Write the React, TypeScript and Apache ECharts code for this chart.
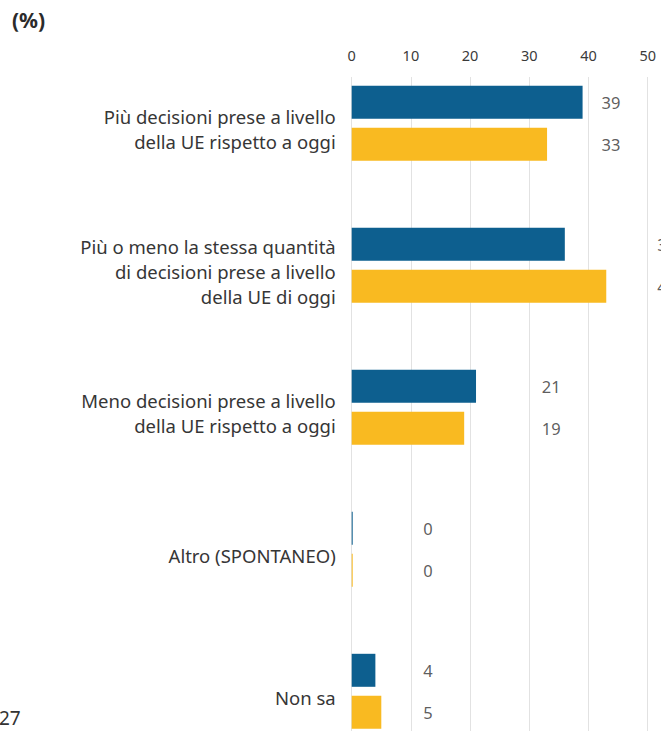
import React, { useEffect, useRef } from "react";
import * as echarts from "echarts";

// ---- data ----
const CATEGORIES = [
  "Più decisioni prese a livello\ndella UE rispetto a oggi",
  "Più o meno la stessa quantità\ndi decisioni prese a livello\ndella UE di oggi",
  "Meno decisioni prese a livello\ndella UE rispetto a oggi",
  "Altro (SPONTANEO)",
  "Non sa",
];
const SERIES_NAMES = ["UE27", "IT"];
const SERIES_BLUE = [39, 36, 21, 0, 4];
const SERIES_YELLOW = [33, 43, 19, 0, 5];
const X_MIN = 0;
const X_MAX = 50;
const X_INTERVAL = 10;

// ---- layout (value-axis position at which each group's value labels start) ----
const LABEL_AT = [42.2, 51.6, 32.1, 12.1, 12.1];

const FONT = "'Noto Sans', sans-serif";
const TEXT = "#333333";
const BLUE = "#0d5f8f";
const YELLOW = "#f9ba21";
const GRID_LEFT = 351.7;
const GRID_WIDTH = 296;
const BAR_W = 33;
const BAR_GAP_PX = 9;
const HALF_OFF = (BAR_W + BAR_GAP_PX) / 2;

export default function App() {
  const ref = useRef<HTMLDivElement>(null);
  useEffect(() => {
    if (!ref.current) return;
    const chart = echarts.init(ref.current, undefined, { renderer: "svg" });
    const labelSeries = (vals: number[], dy: number, name: string) => ({
      type: "scatter",
      name: name + "-labels",
      xAxisIndex: 0,
      yAxisIndex: 0,
      symbolSize: 0,
      clip: false,
      silent: true,
      data: vals.map((v, i) => ({ value: [LABEL_AT[i], i], raw: v })),
      label: {
        show: true,
        position: "right",
        distance: 0,
        offset: [0, dy],
        fontFamily: FONT,
        fontSize: 16.5,
        color: TEXT,
        formatter: (p: any) => String(p.data.raw),
      },
      z: 5,
    });
    chart.setOption({
      animation: false,
      backgroundColor: "#ffffff",
      textStyle: { fontFamily: FONT },
      grid: [
        { left: GRID_LEFT, width: GRID_WIDTH, top: 52.3, height: 710, containLabel: false },
        { left: GRID_LEFT, width: GRID_WIDTH, top: 77, height: 685, containLabel: false },
      ],
      xAxis: [
        {
          gridIndex: 0,
          type: "value",
          min: X_MIN,
          max: X_MAX,
          interval: X_INTERVAL,
          show: false,
        },
        {
          gridIndex: 1,
          type: "value",
          position: "top",
          min: X_MIN,
          max: X_MAX,
          interval: X_INTERVAL,
          axisLine: { show: true, lineStyle: { color: "#dcdcdc", width: 1 } },
          axisTick: { show: true, length: 6, lineStyle: { color: "#dcdcdc" } },
          axisLabel: { margin: 15, fontFamily: FONT, fontSize: 14.5, color: "#3a3a3a" },
          splitLine: { show: true, lineStyle: { color: "#e2e2e2", width: 1 } },
        },
      ],
      yAxis: [
        {
          gridIndex: 0,
          type: "category",
          inverse: true,
          data: CATEGORIES,
          axisLine: { show: false },
          axisTick: { show: false },
          splitLine: { show: false },
          axisLabel: {
            margin: 16,
            align: "right",
            formatter: (v: string) =>
              "{s| }\n" + v.split("\n").map((l) => `{t|${l}}`).join("\n"),
            rich: {
              s: { fontSize: 1, lineHeight: 12 },
              t: {
                fontFamily: FONT,
                fontSize: 18.5,
                lineHeight: 25,
                color: "#363636",
                align: "right",
              },
            },
          },
        },
        { gridIndex: 1, type: "value", show: false },
      ],
      graphic: [
        {
          type: "text",
          left: 12,
          top: 9,
          style: { text: "(%)", fontFamily: FONT, fontWeight: "bold", fontSize: 21, fill: "#2b2b2b" },
        },
        {
          type: "text",
          left: -1,
          top: 708,
          style: { text: "27", fontFamily: FONT, fontSize: 19, fill: TEXT },
        },
      ],
      series: [
        {
          type: "bar",
          name: SERIES_NAMES[0],
          xAxisIndex: 0,
          yAxisIndex: 0,
          data: SERIES_BLUE,
          barWidth: BAR_W,
          barGap: (BAR_GAP_PX / BAR_W) * 100 + "%",
          barMinHeight: 1,
          itemStyle: { color: BLUE },
        },
        {
          type: "bar",
          name: SERIES_NAMES[1],
          xAxisIndex: 0,
          yAxisIndex: 0,
          data: SERIES_YELLOW,
          barWidth: BAR_W,
          barGap: (BAR_GAP_PX / BAR_W) * 100 + "%",
          barMinHeight: 1,
          itemStyle: { color: YELLOW },
        },
        labelSeries(SERIES_BLUE, -HALF_OFF, SERIES_NAMES[0]),
        labelSeries(SERIES_YELLOW, HALF_OFF, SERIES_NAMES[1]),
      ],
    });
    return () => chart.dispose();
  }, []);
  return (
    <div style={{ position: "fixed", left: 0, top: 0, width: 661, height: 731, overflow: "hidden" }}>
      <div ref={ref} style={{ width: 661, height: 800 }} />
    </div>
  );
}
